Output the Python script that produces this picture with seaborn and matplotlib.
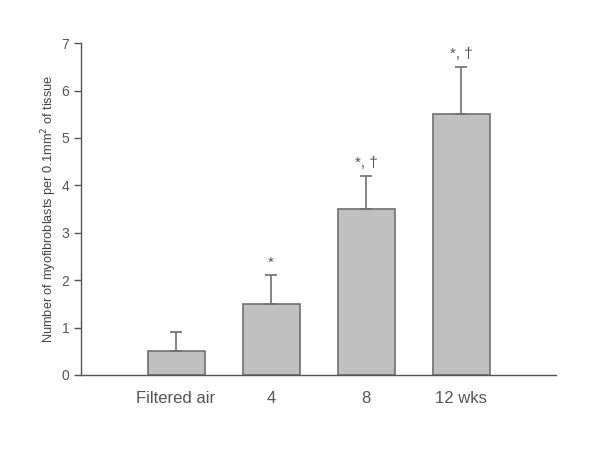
import matplotlib
matplotlib.use("Agg")
import matplotlib.pyplot as plt
import seaborn as sns
import pandas as pd

# values
groups = ["Filtered air", "4", "8", "12 wks"]
means = [0.5, 1.5, 3.5, 5.5]
errors = [0.4, 0.6, 0.7, 1.0]
marks = ["", "*", "*, \u2020", "*, \u2020"]

sns.set_style("white")
plt.rcParams['font.family'] = ['Liberation Sans', 'DejaVu Sans']

df = pd.DataFrame({"group": groups, "mean": means, "err": errors})

fig = plt.figure(figsize=(6, 4.49), dpi=100)
ax = fig.add_axes([0.135, 0.165, 0.792, 0.739])

sns.barplot(data=df, x="group", y="mean", color="#c0c0c0", saturation=1,
            edgecolor="#707070", linewidth=1.2, width=0.6, errorbar=None, ax=ax)

# upward-only error bars
ax.errorbar(range(len(groups)), df["mean"], yerr=[[0] * len(errors), df["err"]],
            fmt="none", ecolor="#707070", elinewidth=1.2, capsize=4.5, capthick=1.2)

for i, (m, e, s) in enumerate(zip(means, errors, marks)):
    if s:
        ax.text(i, m + e + 0.12, s, ha="center", va="bottom", fontsize=11, color="#555555")

ax.set_xlim(-1, 4)
ax.set_ylim(0, 7)
ax.set_yticks(range(8))
ax.set_xlabel("")
ax.set_ylabel("Number of myofibroblasts per 0.1mm$^{2}$ of tissue", fontsize=9.2,
              color="#444444", labelpad=2)

for side in ["top", "right"]:
    ax.spines[side].set_visible(False)
for side in ["left", "bottom"]:
    ax.spines[side].set_color("#555555")
    ax.spines[side].set_linewidth(1.0)

ax.tick_params(axis="y", left=True, length=5, width=1, color="#555555",
               labelsize=10, labelcolor="#555555")
ax.tick_params(axis="x", bottom=False, labelsize=12, labelcolor="#555555", pad=8)

fig.savefig("out.png", dpi=100)
